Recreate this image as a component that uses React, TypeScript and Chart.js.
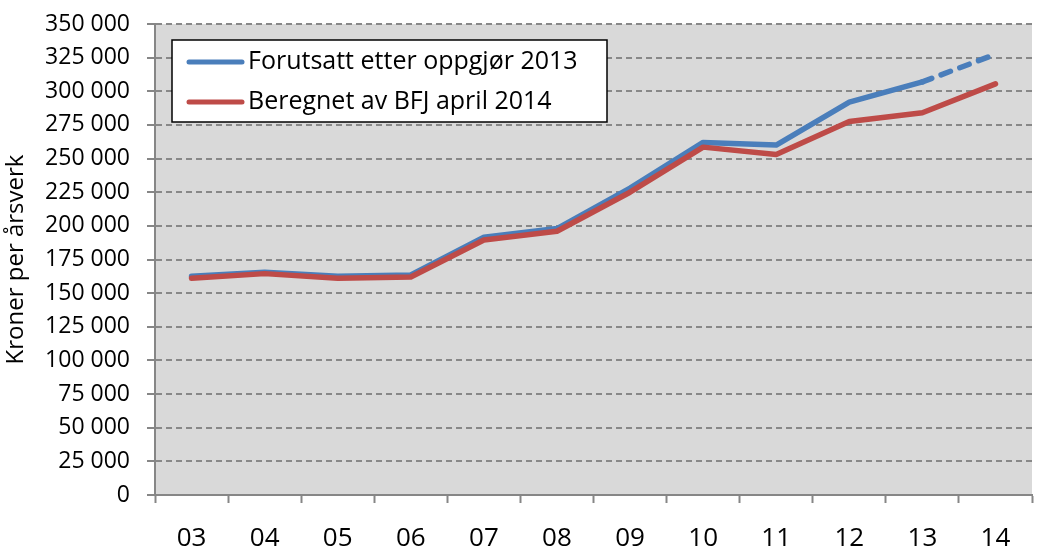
import React, { useEffect, useRef } from "react";
import { Chart, registerables } from "chart.js";

Chart.register(...registerables);

const categories = ["03", "04", "05", "06", "07", "08", "09", "10", "11", "12", "13", "14"];
const forutsatt = [162500, 165500, 162500, 163500, 191500, 198000, 228000, 262000, 260000, 292000, 307000, 327500];
const beregnet = [161000, 164500, 161000, 162000, 189500, 196000, 225000, 258500, 253000, 277500, 284000, 305500];
const seriesLabels = ["Forutsatt etter oppgjør 2013", "Beregnet av BFJ april 2014"];
const yAxisTitle = "Kroner per årsverk";
const yMin = 0;
const yMax = 350000;
const yStep = 25000;

const BLUE = "#4a7ebb";
const RED = "#be4b48";
const AXIS = "#868686";
const GRID = "#888888";
const FONT = "'Open Sans', sans-serif";

const fmt = (v: number) => String(v).replace(/\B(?=(\d{3})+(?!\d))/g, " ");

const plotBg = {
  id: "plotBg",
  beforeDraw(chart: any) {
    const { ctx, chartArea } = chart;
    ctx.save();
    ctx.fillStyle = "#d9d9d9";
    ctx.fillRect(chartArea.left, chartArea.top, chartArea.right - chartArea.left, chartArea.bottom - chartArea.top);
    ctx.restore();
  },
};

const boxLegend = {
  id: "boxLegend",
  afterDraw(chart: any) {
    const { ctx, chartArea } = chart;
    const x = chartArea.left + 17;
    const y = chartArea.top + 16;
    const w = 435;
    const h = 82;
    ctx.save();
    ctx.fillStyle = "#ffffff";
    ctx.fillRect(x, y, w, h);
    ctx.strokeStyle = "#000000";
    ctx.lineWidth = 1.5;
    ctx.strokeRect(x, y, w, h);
    ctx.font = `25px ${FONT}`;
    ctx.textBaseline = "middle";
    ctx.fillStyle = "#000000";
    chart.data.datasets.forEach((ds: any, i: number) => {
      const cy = y + 22 + i * 40;
      ctx.strokeStyle = ds.borderColor;
      ctx.lineWidth = 5;
      ctx.lineCap = "round";
      ctx.beginPath();
      ctx.moveTo(x + 17, cy);
      ctx.lineTo(x + 70, cy);
      ctx.stroke();
      ctx.fillText(ds.label, x + 76, cy);
    });
    ctx.restore();
  },
};

export default function App() {
  const ref = useRef<HTMLCanvasElement | null>(null);

  useEffect(() => {
    if (!ref.current) return;
    const chart = new Chart(ref.current, {
      type: "line",
      data: {
        labels: categories,
        datasets: [
          {
            label: seriesLabels[0],
            data: forutsatt,
            borderColor: BLUE,
            backgroundColor: BLUE,
            borderWidth: 5.5,
            pointRadius: 0,
            borderCapStyle: "round",
            borderJoinStyle: "round",
            order: 2,
            segment: {
              borderDash: (c: any) => (c.p0DataIndex >= 10 ? [10, 10] : undefined),
            },
          } as any,
          {
            label: seriesLabels[1],
            data: beregnet,
            borderColor: RED,
            backgroundColor: RED,
            borderWidth: 5.5,
            pointRadius: 0,
            borderCapStyle: "round",
            borderJoinStyle: "round",
            order: 1,
          } as any,
        ],
      },
      options: {
        animation: false,
        responsive: true,
        maintainAspectRatio: false,
        layout: { padding: { top: 24, right: 16, left: 0, bottom: 0 } },
        plugins: { legend: { display: false }, tooltip: { enabled: false } },
        scales: {
          x: {
            type: "category",
            offset: true,
            afterFit: (s: any) => {
              s.height = 51;
              s.paddingLeft = 0;
              s.paddingRight = 0;
            },
            grid: {
              offset: true,
              drawOnChartArea: false,
              drawTicks: true,
              tickLength: 8,
              tickColor: AXIS,
              tickWidth: 2,
              color: AXIS,
            },
            border: { display: true, color: AXIS, width: 2 },
            ticks: {
              color: "#000000",
              font: { family: FONT, size: 26 },
              padding: 20,
              maxRotation: 0,
              autoSkip: false,
            },
          },
          y: {
            min: yMin,
            max: yMax,
            afterFit: (s: any) => {
              s.width = 155;
              s.paddingTop = 0;
              s.paddingBottom = 0;
            },
            grid: {
              color: GRID,
              lineWidth: 2,
              drawTicks: true,
              tickLength: 8,
              tickColor: AXIS,
              tickWidth: 2,
            },
            border: { display: true, color: AXIS, width: 2, dash: [6, 4] },
            ticks: {
              stepSize: yStep,
              color: "#000000",
              font: { family: FONT, size: 23 },
              padding: 17,
              callback: (v: any) => fmt(Number(v)),
            },
            title: {
              display: true,
              text: yAxisTitle,
              color: "#000000",
              font: { family: FONT, size: 24 },
              padding: { top: 2, bottom: 0 },
            },
          },
        },
      },
      plugins: [plotBg, boxLegend],
    });
    return () => chart.destroy();
  }, []);

  return (
    <div style={{ position: "absolute", left: 0, top: 0, width: 1048, height: 546 }}>
      <canvas ref={ref} />
    </div>
  );
}
